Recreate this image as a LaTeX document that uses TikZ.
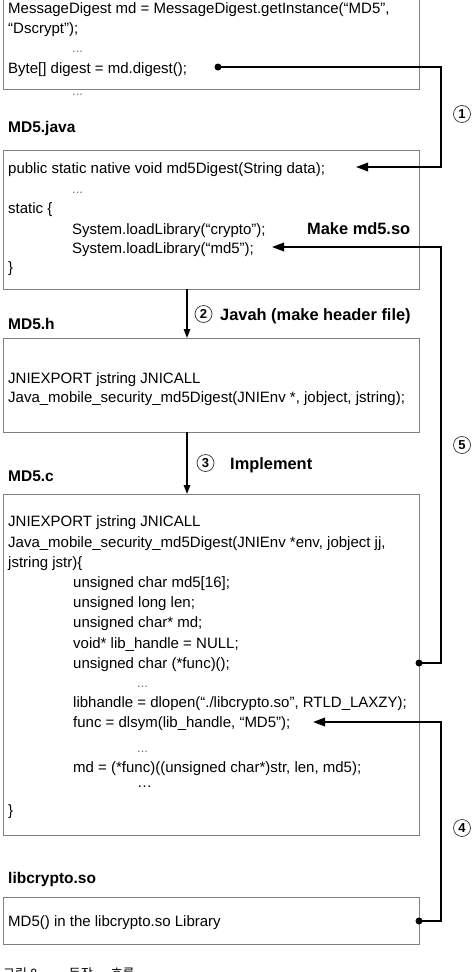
\documentclass[tikz,border=0pt]{standalone}
\usepackage{fontspec}
\setmainfont{Liberation Sans}
\newfontfamily\krfont{Noto Sans CJK KR}
\usetikzlibrary{arrows.meta}
\begin{document}
\begin{tikzpicture}[x=1pt,y=-1pt,
  codebox/.style={draw=black!50, line width=1pt, anchor=north west, minimum width=416pt, inner sep=0pt},
  code/.style={anchor=base west, inner sep=0pt, font=\fontsize{15}{18}\selectfont},
  dots/.style={anchor=base west, inner sep=0pt, font=\fontsize{13}{15}\selectfont, text=black!55},
  title/.style={anchor=base west, inner sep=0pt, font=\fontsize{15.5}{18}\selectfont\bfseries},
  steplabel/.style={anchor=base west, inner sep=0pt, font=\fontsize{16.4}{19}\selectfont\bfseries},
  num/.style={circle, draw=black!80, line width=0.7pt, minimum size=17pt, inner sep=0pt, font=\fontsize{13}{15}\selectfont\bfseries},
  link/.style={line width=1.8pt, -{Triangle[length=12pt,width=8.5pt]}},
  flow/.style={line width=1.4pt, -{Triangle[length=9pt,width=6.5pt]}},
  dot/.style={circle, fill=black, minimum size=7pt, inner sep=0pt},
]
\useasboundingbox (0,0) rectangle (474,972);
\fill[white] (0,0) rectangle (474,972);

% boxes
\node[codebox, minimum height=94pt] (b1) at (3,-5) {};
\node[codebox, minimum height=139pt] (b2) at (3,150) {};
\node[codebox, minimum height=94pt] (b3) at (3,338) {};
\node[codebox, minimum height=341pt] (b4) at (3,494) {};
\node[codebox, minimum height=47pt] (b5) at (3,897) {};

% box 1
\node[code] (l11) at (8,13) {MessageDigest md = MessageDigest.getInstance(“MD5”,};
\node[code] (l12) at (8,33) {“Dscrypt”);};
\node[dots] (l13) at (72,52) {...};
\node[code] (l14) at (8,73) {Byte[] digest = md.digest();};
\node[dots] (l15) at (72,95) {...};

% MD5.java
\node[title] (t2) at (8,132) {MD5.java};
\node[code] (l21) at (8,173) {public static native void md5Digest(String data);};
\node[dots] (l22) at (72,193) {...};
\node[code] (l23) at (8,213) {static \{};
\node[code] (l24) at (72,234) {System.loadLibrary(“crypto”);};
\node[code] (l25) at (72,253) {System.loadLibrary(“md5”);};
\node[code] (l26) at (8,272) {\}};
\node[steplabel] (s5) at (307,234) {Make md5.so};

% MD5.h
\node[title] (t3) at (8,329) {MD5.h};
\node[code] (l31) at (8,383) {JNIEXPORT jstring JNICALL};
\node[code] (l32) at (8,402) {Java\_mobile\_security\_md5Digest(JNIEnv *, jobject, jstring);};
\node[num] (n2) at (203.5,314) {2};
\node[steplabel] (s2) at (220,320) {Javah (make header file)};

% MD5.c
\node[num] (n3) at (205.5,463) {3};
\node[steplabel] (s3) at (230,469) {Implement};
\node[title] (t4) at (8,481) {MD5.c};
\node[code] (l41) at (8,526) {JNIEXPORT jstring JNICALL};
\node[code] (l42) at (8,547) {Java\_mobile\_security\_md5Digest(JNIEnv *env, jobject jj,};
\node[code] (l43) at (8,567) {jstring jstr)\{};
\node[code] (l44) at (73,587) {unsigned char md5[16];};
\node[code] (l45) at (73,607) {unsigned long len;};
\node[code] (l46) at (73,627) {unsigned char* md;};
\node[code] (l47) at (73,648) {void* lib\_handle = NULL;};
\node[code] (l48) at (73,668) {unsigned char (*func)();};
\node[dots] (l49) at (137,687) {...};
\node[code] (l4a) at (73,707) {libhandle = dlopen(“./libcrypto.so”, RTLD\_LAXZY);};
\node[code] (l4b) at (73,727) {func = dlsym(lib\_handle, “MD5”);};
\node[dots] (l4c) at (137,752) {...};
\node[code] (l4d) at (73,772) {md = (*func)((unsigned char*)str, len, md5);};
\node[code] (l4e) at (137,787) {…};
\node[code] (l4f) at (8,815) {\}};

% libcrypto
\node[title] (t5) at (8,883) {libcrypto.so};
\node[code] (l51) at (8,926) {MD5() in the libcrypto.so Library};

% caption (cut off at the bottom edge, as in the reference)
\node[anchor=base west, inner sep=0pt, font=\krfont\fontsize{13}{15}\selectfont] (cap) at (3,978) {그림 8.\hspace{28pt}동작\hspace{18pt}흐름};

% numbers on the right
\node[num] (n1) at (462,114) {1};
\node[num] (n5) at (462,445) {5};
\node[num] (n4) at (462,828) {4};

% connectors
\node[dot] (d1) at (218,67) {};
\node[dot] (d5) at (419,663) {};
\node[dot] (d4) at (419,921) {};
\coordinate (r1) at (441,167);
\coordinate (t1) at (356,167);
\coordinate (r5) at (441,247);
\coordinate (t5) at (272,247);
\coordinate (r4) at (441,722);
\coordinate (t4) at (313,722);
\draw[link] (d1.center) -| (r1) -- (t1);
\draw[link] (d5.center) -| (r5) -- (t5);
\draw[link] (d4.center) -| (r4) -- (t4);

\coordinate (f2a) at (187,289);
\coordinate (f2b) at (187,338);
\coordinate (f3a) at (187,432);
\coordinate (f3b) at (187,494);
\draw[flow] (f2a) -- (f2b);
\draw[flow] (f3a) -- (f3b);
\end{tikzpicture}
\end{document}
